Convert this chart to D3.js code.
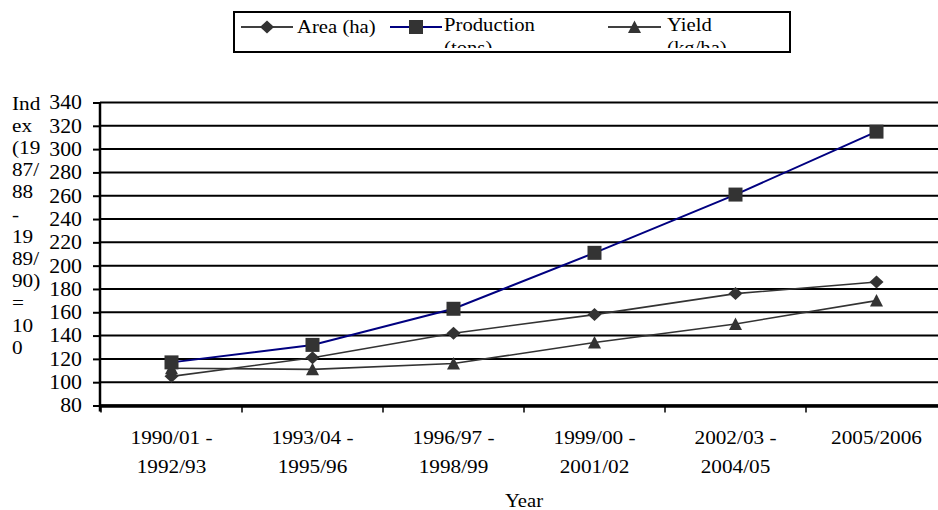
<!DOCTYPE html>
<html>
<head>
<meta charset="utf-8">
<script src="https://cdn.jsdelivr.net/npm/d3@7"></script>
<style>
  html, body { margin: 0; padding: 0; background: #fff; }
  svg, svg text { font-family: "Liberation Serif", "Times New Roman", serif; }
</style>
</head>
<body>
<svg id="chart" width="938" height="510"></svg>
<script>
// ---- data ----
const categories = [
  ["1990/01 -", "1992/93"],
  ["1993/04 -", "1995/96"],
  ["1996/97 -", "1998/99"],
  ["1999/00 -", "2001/02"],
  ["2002/03 -", "2004/05"],
  ["2005/2006"]
];
const areaValues = [105, 121, 142, 158, 176, 186];
const productionValues = [117, 132, 163, 211, 261, 315];
const yieldValues = [112, 111, 116, 134, 150, 170];
const yTicks = [80, 100, 120, 140, 160, 180, 200, 220, 240, 260, 280, 300, 320, 340];
const yAxisLabelLines = ["Ind", "ex", "(19", "87/", "88", "-", "19", "89/", "90)", "=", "10", "0"];
const xAxisTitle = "Year";
const seriesNames = [["Area (ha)"], ["Production", "(tons)"], ["Yield", "(kg/ha)"]];

const FONT = "'Liberation Serif', 'Times New Roman', serif";
const SX = 1.09; // horizontal text stretch seen in the reference

// ---- layout ----
const svg = d3.select("#chart");
const catKeys = categories.map((c, i) => i);
const x = d3.scaleBand().domain(catKeys).range([101, 947]).padding(0);
const y = d3.scaleLinear().domain([80, 340]).range([405.5, 102.5]);
const cx = i => x(i) + x.bandwidth() / 2;

function stretchedText(parent, tx, ty, str, size, anchor) {
  return parent.append("text")
    .attr("transform", `translate(${tx},${ty}) scale(${SX},1)`)
    .attr("x", 0).attr("y", 0)
    .attr("text-anchor", anchor || "start")
    .attr("font-family", FONT).attr("font-size", size)
    .attr("fill", "#000")
    .text(str);
}

// gridlines
svg.append("g").selectAll("line").data(yTicks).join("line")
  .attr("x1", 100).attr("x2", 938)
  .attr("y1", d => y(d)).attr("y2", d => y(d))
  .attr("stroke", "#000").attr("stroke-width", 2);

// y axis
const yAxis = d3.axisLeft(y).tickValues(yTicks).tickSize(7).tickPadding(11).tickFormat(d3.format("d"));
const gy = svg.append("g").attr("transform", "translate(100,0)").call(yAxis);
gy.attr("font-family", FONT).attr("font-size", 20);
gy.select(".domain").attr("stroke", "#000").attr("stroke-width", 2.5).attr("d", `M0,${y(340)}V${y(80) + 6}`);
gy.selectAll(".tick line").attr("stroke", "#000").attr("stroke-width", 2);
gy.selectAll(".tick text")
  .attr("fill", "#000").attr("font-family", FONT).attr("font-size", 20)
  .attr("x", -18 / SX)
  .attr("transform", `scale(${SX},1)`);

// x axis
const xAxis = d3.axisBottom(x).tickSize(0).tickFormat(() => "");
const gx = svg.append("g").attr("transform", `translate(0,${y(80)})`).call(xAxis);
gx.select(".domain").attr("stroke", "#000").attr("stroke-width", 3.5).attr("d", "M100,0.5H938");
gx.selectAll(".tick").remove();
// boundary tick marks between categories
svg.append("g").selectAll("line").data(catKeys).join("line")
  .attr("x1", d => x(d)).attr("x2", d => x(d))
  .attr("y1", y(80)).attr("y2", y(80) + 7)
  .attr("stroke", "#000").attr("stroke-width", 1.5);

// category labels
const gl = svg.append("g");
categories.forEach((lines, i) => {
  lines.forEach((s, k) => stretchedText(gl, cx(i), 444 + k * 29, s, 19.5, "middle"));
});

// x axis title
stretchedText(svg, 524, 507, xAxisTitle, 19, "middle");

// y axis title (wrapped)
const gt = svg.append("g");
yAxisLabelLines.forEach((s, i) => stretchedText(gt, 12, 109.5 + i * 22.2, s, 19.5, "start"));

// ---- series ----
const line = d3.line().x((d, i) => cx(i)).y(d => y(d));
const markerDiamond = "M0,-6.5L7,0L0,6.5L-7,0Z";
const markerSquare = "M-7,-7H7V7H-7Z";
const markerTriangle = "M0,-6.5L6.5,6L-6.5,6Z";

const series = [
  { vals: areaValues, color: "#333", width: 1.6, marker: markerDiamond },
  { vals: yieldValues, color: "#333", width: 1.6, marker: markerTriangle },
  { vals: productionValues, color: "#000080", width: 2, marker: markerSquare }
];
series.forEach(s => {
  svg.append("path").datum(s.vals).attr("d", line)
    .attr("fill", "none").attr("stroke", s.color).attr("stroke-width", s.width);
  svg.append("g").selectAll("path").data(s.vals).join("path")
    .attr("d", s.marker)
    .attr("transform", (d, i) => `translate(${cx(i)},${y(d)})`)
    .attr("fill", "#333");
});

// ---- legend ----
const lg = svg.append("g");
lg.append("rect").attr("x", 234).attr("y", 12).attr("width", 556).attr("height", 40)
  .attr("fill", "#fff").attr("stroke", "#000").attr("stroke-width", 2);
svg.append("defs").append("clipPath").attr("id", "legclip")
  .append("rect").attr("x", 235).attr("y", 13).attr("width", 554).attr("height", 35);
const legendItems = [
  { name: seriesNames[0], color: "#000", width: 1.5, marker: markerDiamond, x0: 241, x1: 293, tx: 297, ty: 33 },
  { name: seriesNames[1], color: "#000080", width: 2, marker: markerSquare, x0: 390, x1: 442, tx: 444, ty: 31 },
  { name: seriesNames[2], color: "#000", width: 1.5, marker: markerTriangle, x0: 608, x1: 661, tx: 667, ty: 31 }
];
const lgText = lg.append("g").attr("clip-path", "url(#legclip)");
legendItems.forEach(it => {
  const my = 27;
  lg.append("line").attr("x1", it.x0).attr("x2", it.x1).attr("y1", my).attr("y2", my)
    .attr("stroke", it.color).attr("stroke-width", it.width);
  lg.append("path").attr("d", it.marker)
    .attr("transform", `translate(${(it.x0 + it.x1) / 2},${my})`).attr("fill", "#333");
  it.name.forEach((s, k) => stretchedText(lgText, it.tx, it.ty + k * 23, s, 19, "start"));
});
</script>
</body>
</html>
